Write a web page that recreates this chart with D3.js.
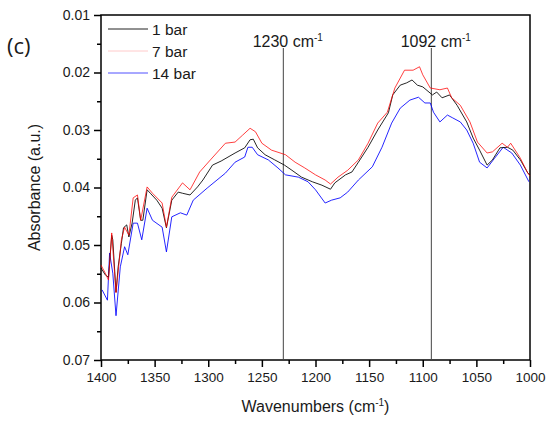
<!DOCTYPE html>
<html>
<head>
<meta charset="utf-8">
<script src="https://cdnjs.cloudflare.com/ajax/libs/d3/7.8.5/d3.min.js"></script>
<style>
  body { margin: 0; background: #fff; }
  text { font-family: "Liberation Sans", Arial, sans-serif; fill: #1a1a1a; }
</style>
</head>
<body>
<div id="chart"></div>
<script>
// wavenumber (cm-1) and absorbance
var wn1 = [1400,1396,1393,1390,1389,1386,1384,1381,1379,1376,1374,1371,1368,1366,1363,1361,1357,1354,1348,1343,1339,1334,1328,1324,1317,1310,1305,1296,1288,1275,1266,1261,1258,1254,1247,1238,1229,1222,1213,1203,1194,1186,1182,1172,1166,1160,1151,1142,1132,1128,1121,1115,1110,1105,1100,1091,1087,1082,1075,1068,1059,1053,1047,1040,1035,1028,1021,1016,1009,1002,1000];
var abs1 = [0.0540,0.0552,0.0556,0.0483,0.0491,0.0582,0.0538,0.0497,0.0470,0.0465,0.0486,0.0462,0.0422,0.0418,0.0457,0.0457,0.0404,0.0410,0.0422,0.0436,0.0470,0.0422,0.0408,0.0410,0.0413,0.0399,0.0387,0.0361,0.0354,0.0340,0.0331,0.0317,0.0316,0.0331,0.0343,0.0352,0.0361,0.0370,0.0382,0.0390,0.0396,0.0403,0.0392,0.0378,0.0373,0.0356,0.0330,0.0300,0.0270,0.0239,0.0222,0.0218,0.0213,0.0222,0.0225,0.0239,0.0234,0.0244,0.0239,0.0257,0.0286,0.0314,0.0335,0.0361,0.0352,0.0331,0.0330,0.0335,0.0352,0.0375,0.0378];

var wn7 = [1400,1396,1393,1390,1386,1381,1378,1374,1370,1366,1363,1357,1352,1343,1339,1334,1324,1317,1308,1298,1284,1275,1268,1261,1256,1250,1241,1228,1219,1210,1200,1191,1186,1179,1170,1160,1151,1142,1133,1126,1117,1109,1103,1100,1093,1084,1077,1073,1065,1056,1049,1040,1035,1026,1021,1018,1009,1002,1000];
var abs7 = [0.0535,0.0549,0.0561,0.0479,0.0583,0.0491,0.0469,0.0483,0.0418,0.0413,0.0457,0.0399,0.0410,0.0427,0.0469,0.0417,0.0392,0.0404,0.0373,0.0352,0.0323,0.0321,0.0309,0.0297,0.0303,0.0323,0.0335,0.0343,0.0356,0.0366,0.0378,0.0387,0.0394,0.0382,0.0370,0.0352,0.0323,0.0288,0.0269,0.0227,0.0196,0.0196,0.0190,0.0204,0.0227,0.0230,0.0227,0.0244,0.0257,0.0286,0.0321,0.0340,0.0338,0.0323,0.0330,0.0323,0.0349,0.0375,0.0380];

var wn14 = [1399,1394,1392,1389,1386,1382,1378,1375,1370,1366,1362,1357,1352,1343,1339,1334,1326,1320,1314,1301,1284,1275,1266,1263,1259,1254,1244,1235,1228,1216,1207,1200,1191,1185,1177,1170,1160,1147,1138,1129,1121,1112,1104,1098,1093,1090,1084,1077,1072,1065,1059,1053,1047,1040,1033,1025,1017,1009,1001];
var abs14 = [0.0578,0.0596,0.0514,0.0549,0.0623,0.0538,0.0503,0.0517,0.0462,0.0462,0.0491,0.0436,0.0457,0.0469,0.0512,0.0451,0.0444,0.0448,0.0422,0.0401,0.0375,0.0356,0.0347,0.0330,0.0330,0.0343,0.0352,0.0366,0.0378,0.0382,0.0390,0.0404,0.0427,0.0422,0.0418,0.0408,0.0387,0.0364,0.0330,0.0288,0.0262,0.0248,0.0243,0.0253,0.0253,0.0269,0.0286,0.0274,0.0279,0.0286,0.0300,0.0323,0.0356,0.0366,0.0349,0.0330,0.0340,0.0361,0.0390];

var seriesNames = ["1 bar", "7 bar", "14 bar"];
var seriesColors = ["#000000", "#ff0000", "#0000ff"];
var legendColors = ["#222222", "#ffcaca", "#5050ff"];
var markers = [1230, 1092];
var yTicks = [0.01, 0.02, 0.03, 0.04, 0.05, 0.06, 0.07];
var xTicks = [1400, 1350, 1300, 1250, 1200, 1150, 1100, 1050, 1000];

var W = 549, H = 424;
var margin = {top: 15, right: 19, bottom: 64, left: 101},
    width = W - margin.left - margin.right,
    height = H - margin.top - margin.bottom;

var svgRoot = d3.select("#chart").append("svg")
    .attr("width", W)
    .attr("height", H);

var svg = svgRoot.append("g")
    .attr("transform", "translate(" + margin.left + "," + margin.top + ")");

var x = d3.scaleLinear().domain([1400, 1000]).range([0, width]);
var y = d3.scaleLinear().domain([0.01, 0.07]).range([0, height]);

// minor ticks
var xMinor = d3.range(1375, 1000, -50);
var yMinor = d3.range(0.015, 0.07, 0.01);

svg.append("g")
    .attr("transform", "translate(0," + height + ")")
    .call(d3.axisBottom(x).tickValues(xTicks).tickFormat(d3.format("d")).tickSize(7).tickPadding(5));
svg.append("g")
    .attr("transform", "translate(0," + height + ")")
    .call(d3.axisBottom(x).tickValues(xMinor).tickFormat("").tickSize(4));

svg.append("g")
    .attr("class", "yax")
    .call(d3.axisLeft(y).tickValues(yTicks).tickFormat(d3.format(".2f")).tickSize(7).tickPadding(4));
svg.append("g")
    .call(d3.axisLeft(y).tickValues(yMinor).tickFormat("").tickSize(4));

svg.selectAll(".domain").remove();
svg.selectAll(".tick line").attr("stroke", "#000").attr("stroke-width", 1.5);
svg.selectAll(".tick text").style("font-size", "13.5px").attr("fill", "#1a1a1a");
svg.selectAll(".yax .tick text").style("font-size", "14px");

// frame
svg.append("rect")
    .attr("x", 0).attr("y", 0)
    .attr("width", width).attr("height", height)
    .attr("fill", "none")
    .attr("stroke", "#000")
    .attr("stroke-width", 1.5);

// reference lines
markers.forEach(function(m) {
  svg.append("line")
    .attr("x1", x(m)).attr("x2", x(m))
    .attr("y1", 33).attr("y2", height)
    .attr("stroke", "#444")
    .attr("stroke-width", 1);
  var t = svg.append("text")
    .attr("y", 32)
    .style("font-size", "16px");
  var main = t.append("tspan").text(m + " cm");
  var w = main.node().getComputedTextLength();
  t.attr("x", x(m) - w / 2);
  t.append("tspan").attr("dy", -6).style("font-size", "10px").text("-1");
});

// spectra
var line = d3.line()
    .x(function(d) { return x(d[0]); })
    .y(function(d) { return y(d[1]); });

var allSeries = [
  d3.zip(wn14, abs14),
  d3.zip(wn1, abs1),
  d3.zip(wn7, abs7)
];
var order = [2, 0, 1];
allSeries.forEach(function(s, i) {
  svg.append("path")
    .datum(s)
    .attr("d", line)
    .attr("fill", "none")
    .attr("stroke", seriesColors[order[i]])
    .attr("stroke-opacity", order[i] === 1 ? 0.75 : 0.85)
    .attr("stroke-width", 1);
});

// legend
var legend = svg.append("g").attr("transform", "translate(7,14)");
seriesNames.forEach(function(name, i) {
  var g = legend.append("g").attr("transform", "translate(0," + (i * 22) + ")");
  g.append("line")
    .attr("x1", 0).attr("x2", 40)
    .attr("y1", 0).attr("y2", 0)
    .attr("stroke", legendColors[i])
    .attr("stroke-width", 1);
  g.append("text")
    .attr("x", 44).attr("y", 6)
    .style("font-size", "15.5px")
    .text(name);
});

// axis titles
svgRoot.append("text")
    .attr("transform", "translate(40," + (margin.top + height / 2) + ") rotate(-90)")
    .attr("text-anchor", "middle")
    .style("font-size", "16px")
    .text("Absorbance (a.u.)");

var xt = svgRoot.append("text")
    .attr("x", margin.left + width / 2)
    .attr("y", 412)
    .attr("text-anchor", "middle")
    .style("font-size", "16px");
xt.append("tspan").text("Wavenumbers (cm");
xt.append("tspan").attr("dy", -6).style("font-size", "10px").text("-1");
xt.append("tspan").attr("dy", 6).text(")");

// panel label
svgRoot.append("text")
    .attr("x", 7).attr("y", 54)
    .style("font-family", "'Open Sans', Lato, sans-serif")
    .style("font-size", "22px")
    .text("(c)");
</script>
</body>
</html>
